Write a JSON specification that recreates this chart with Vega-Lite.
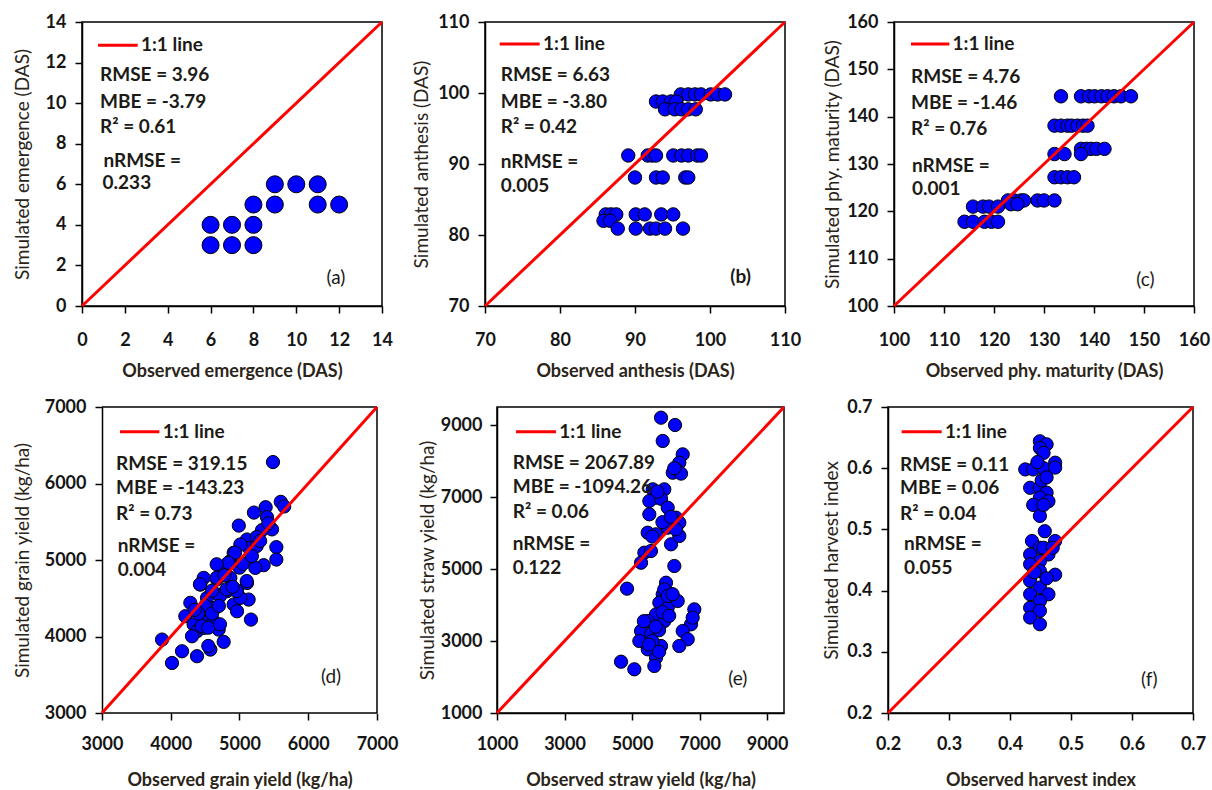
{
"$schema": "https://vega.github.io/schema/vega-lite/v6.json",
"background": "white",
"padding": {"left": 12, "top": 12, "right": 5, "bottom": 3},
"config": {
  "view": {"stroke": "black", "strokeWidth": 1.5},
  "axis": {"grid": false, "domainColor": "black", "domainWidth": 1.5, "tickColor": "black", "tickWidth": 1.5, "tickSize": 7,
    "labelFont": "Lato", "labelFontSize": 18, "labelFontWeight": "bold", "labelColor": "#151515", "labelFlush": false, "labelOverlap": false, "labelBound": false,
    "titleFont": "Lato", "titleFontSize": 18, "titleColor": "#2b2418"},
  "axisX": {"titleFontWeight": "bold"},
  "axisY": {"titleFontWeight": "normal", "titleFontSize": 19},
  "text": {"font": "Lato", "fontSize": 19, "fontWeight": "bold", "color": "#1c1a16", "align": "left", "baseline": "middle"},
  "circle": {"fill": "#0000ff", "stroke": "black", "strokeWidth": 1, "opacity": 1, "fillOpacity": 1}
},
"datasets": {
  "a": [{"obs":6,"sim":4},{"obs":7,"sim":4},{"obs":8,"sim":4},{"obs":6,"sim":3},{"obs":7,"sim":3},{"obs":8,"sim":3},{"obs":8,"sim":5},{"obs":9,"sim":5},{"obs":9,"sim":6},{"obs":10,"sim":6},{"obs":11,"sim":6},{"obs":11,"sim":5},{"obs":12,"sim":5}],
  "b": [{"obs":96.1,"sim":99.8},{"obs":97.1,"sim":99.8},{"obs":98.0,"sim":99.8},{"obs":98.8,"sim":99.8},{"obs":100.1,"sim":99.8},{"obs":101.0,"sim":99.8},{"obs":102.0,"sim":99.8},
    {"obs":92.8,"sim":98.8},{"obs":93.7,"sim":98.8},{"obs":94.8,"sim":98.8},{"obs":95.5,"sim":98.8},
    {"obs":94.0,"sim":97.7},{"obs":95.3,"sim":97.7},{"obs":96.2,"sim":97.7},{"obs":97.1,"sim":97.7},{"obs":98.1,"sim":97.7},
    {"obs":89.1,"sim":91.2},{"obs":91.7,"sim":91.2},{"obs":92.3,"sim":91.2},{"obs":92.8,"sim":91.2},{"obs":95.1,"sim":91.2},{"obs":96.2,"sim":91.2},{"obs":97.1,"sim":91.2},{"obs":98.3,"sim":91.2},{"obs":98.8,"sim":91.2},
    {"obs":90.0,"sim":88.1},{"obs":92.8,"sim":88.1},{"obs":93.7,"sim":88.1},{"obs":96.7,"sim":88.1},{"obs":97.1,"sim":88.1},
    {"obs":86.1,"sim":82.9},{"obs":86.8,"sim":82.9},{"obs":87.5,"sim":82.9},{"obs":90.1,"sim":82.9},{"obs":91.3,"sim":82.9},{"obs":93.5,"sim":82.9},{"obs":95.1,"sim":82.9},
    {"obs":85.8,"sim":82.0},{"obs":86.7,"sim":82.0},
    {"obs":87.7,"sim":80.9},{"obs":90.1,"sim":80.9},{"obs":92.0,"sim":80.9},{"obs":92.8,"sim":80.9},{"obs":94.0,"sim":80.9},{"obs":96.4,"sim":80.9}],
  "c": [{"obs":133.4,"sim":144.3},{"obs":137.4,"sim":144.3},{"obs":139.0,"sim":144.3},{"obs":140.1,"sim":144.3},{"obs":141.5,"sim":144.3},{"obs":142.7,"sim":144.3},{"obs":144.0,"sim":144.3},{"obs":145.4,"sim":144.3},{"obs":147.4,"sim":144.3},
    {"obs":132.1,"sim":138.1},{"obs":133.4,"sim":138.1},{"obs":134.7,"sim":138.1},{"obs":135.5,"sim":138.1},{"obs":136.7,"sim":138.1},{"obs":137.8,"sim":138.1},{"obs":138.7,"sim":138.1},
    {"obs":137.4,"sim":133.2},{"obs":138.5,"sim":133.2},{"obs":139.4,"sim":133.2},{"obs":140.5,"sim":133.2},{"obs":142.1,"sim":133.2},
    {"obs":132.1,"sim":132.1},{"obs":134.1,"sim":132.1},{"obs":137.4,"sim":132.1},
    {"obs":132.1,"sim":127.2},{"obs":133.4,"sim":127.2},{"obs":134.7,"sim":127.2},{"obs":136.0,"sim":127.2},
    {"obs":122.8,"sim":122.3},{"obs":124.0,"sim":122.3},{"obs":125.4,"sim":122.3},{"obs":126.0,"sim":122.3},{"obs":128.7,"sim":122.3},{"obs":130.0,"sim":122.3},{"obs":132.1,"sim":122.3},
    {"obs":123.4,"sim":121.5},{"obs":124.7,"sim":121.5},
    {"obs":115.8,"sim":121.0},{"obs":117.8,"sim":121.0},{"obs":119.0,"sim":121.0},{"obs":120.8,"sim":121.0},
    {"obs":114.1,"sim":117.8},{"obs":115.8,"sim":117.8},{"obs":118.1,"sim":117.8},{"obs":119.5,"sim":117.8},{"obs":120.8,"sim":117.8}],
  "d": [{"obs":5487,"sim":6280},{"obs":5600,"sim":5760},{"obs":5650,"sim":5700},{"obs":5380,"sim":5690},{"obs":5210,"sim":5620},{"obs":5400,"sim":5560},{"obs":5473,"sim":5400},{"obs":5327,"sim":5390},{"obs":4990,"sim":5450},{"obs":5536,"sim":5168},{"obs":5536,"sim":5006},{"obs":5351,"sim":4932},{"obs":5230,"sim":4897},{"obs":5109,"sim":5268},{"obs":5133,"sim":5159},{"obs":5012,"sim":5203},{"obs":4915,"sim":5094},{"obs":4867,"sim":4985},{"obs":4842,"sim":4963},{"obs":5109,"sim":4700},{"obs":5133,"sim":4483},{"obs":5167,"sim":4221},{"obs":4964,"sim":4592},{"obs":4915,"sim":4418},{"obs":4964,"sim":4330},{"obs":4745,"sim":4854},{"obs":4673,"sim":4745},{"obs":4721,"sim":4548},{"obs":4648,"sim":4374},{"obs":4430,"sim":4679},{"obs":4479,"sim":4766},{"obs":4285,"sim":4440},{"obs":4212,"sim":4265},{"obs":4333,"sim":4156},{"obs":4382,"sim":4069},{"obs":4309,"sim":4003},{"obs":4479,"sim":4112},{"obs":4552,"sim":4200},{"obs":4624,"sim":4200},{"obs":4697,"sim":4090},{"obs":4770,"sim":3930},{"obs":4576,"sim":3829},{"obs":4382,"sim":3742},{"obs":4164,"sim":3807},{"obs":4018,"sim":3654},{"obs":3873,"sim":3960},{"obs":4527,"sim":4505},{"obs":4575,"sim":4374},{"obs":4818,"sim":4592},{"obs":4867,"sim":4767},{"obs":5012,"sim":4505},{"obs":5250,"sim":5183},{"obs":5250,"sim":5300},{"obs":4935,"sim":5096},{"obs":4837,"sim":4965},{"obs":5105,"sim":4725},{"obs":4959,"sim":4595},{"obs":4716,"sim":4529},{"obs":4668,"sim":4769},{"obs":4425,"sim":4682},{"obs":4450,"sim":4137},{"obs":4546,"sim":4115},{"obs":4716,"sim":4159},{"obs":4546,"sim":3876},{"obs":4668,"sim":4944},{"obs":4814,"sim":4617},{"obs":5000,"sim":4900},{"obs":4780,"sim":4800},{"obs":4600,"sim":4600},{"obs":4500,"sim":4400},{"obs":4400,"sim":4300},{"obs":4350,"sim":4350},{"obs":4600,"sim":4300},{"obs":4700,"sim":4400},{"obs":4900,"sim":4650},{"obs":5050,"sim":4950},{"obs":5180,"sim":5050},{"obs":5300,"sim":5250},{"obs":5420,"sim":5480}],
  "e": [{"obs":5858,"sim":9203},{"obs":6273,"sim":9000},{"obs":5908,"sim":8556},{"obs":6500,"sim":8185},{"obs":6400,"sim":7953},{"obs":6302,"sim":7769},{"obs":6204,"sim":7675},{"obs":6450,"sim":7650},{"obs":5612,"sim":7213},{"obs":5955,"sim":7213},{"obs":5710,"sim":6981},{"obs":5512,"sim":6889},{"obs":5858,"sim":6950},{"obs":6056,"sim":6703},{"obs":5512,"sim":6519},{"obs":6302,"sim":6425},{"obs":6400,"sim":6286},{"obs":5463,"sim":6008},{"obs":5710,"sim":5964},{"obs":6056,"sim":6147},{"obs":6154,"sim":5686},{"obs":6400,"sim":5917},{"obs":5364,"sim":5453},{"obs":5560,"sim":5500},{"obs":5266,"sim":5175},{"obs":6252,"sim":5083},{"obs":4851,"sim":4453},{"obs":6006,"sim":4619},{"obs":5908,"sim":4297},{"obs":6154,"sim":4297},{"obs":5808,"sim":4064},{"obs":6056,"sim":3925},{"obs":6352,"sim":4111},{"obs":5710,"sim":3740},{"obs":5464,"sim":3555},{"obs":5956,"sim":3555},{"obs":6844,"sim":3880},{"obs":6746,"sim":3463},{"obs":6500,"sim":3278},{"obs":6648,"sim":3047},{"obs":6400,"sim":2861},{"obs":5266,"sim":3278},{"obs":5562,"sim":3186},{"obs":5858,"sim":2861},{"obs":5216,"sim":3000},{"obs":5464,"sim":2769},{"obs":5710,"sim":2536},{"obs":4673,"sim":2425},{"obs":5067,"sim":2214},{"obs":5660,"sim":2306},{"obs":6796,"sim":3650},{"obs":5955,"sim":4435},{"obs":6056,"sim":4250},{"obs":5800,"sim":3300},{"obs":5600,"sim":3000},{"obs":5900,"sim":3800},{"obs":6100,"sim":3700},{"obs":5700,"sim":3400},{"obs":5350,"sim":3550},{"obs":5500,"sim":2900},{"obs":5800,"sim":2700},{"obs":6200,"sim":4300},{"obs":5900,"sim":6300},{"obs":6300,"sim":6100},{"obs":5600,"sim":5900},{"obs":6150,"sim":6450},{"obs":6250,"sim":7800},{"obs":5750,"sim":7150}],
  "f": [{"obs":0.449,"sim":0.644},{"obs":0.460,"sim":0.639},{"obs":0.449,"sim":0.633},{"obs":0.455,"sim":0.625},{"obs":0.474,"sim":0.609},{"obs":0.425,"sim":0.598},{"obs":0.438,"sim":0.598},{"obs":0.455,"sim":0.600},{"obs":0.474,"sim":0.601},{"obs":0.433,"sim":0.568},{"obs":0.449,"sim":0.568},{"obs":0.460,"sim":0.560},{"obs":0.449,"sim":0.552},{"obs":0.463,"sim":0.546},{"obs":0.452,"sim":0.580},{"obs":0.449,"sim":0.522},{"obs":0.457,"sim":0.497},{"obs":0.436,"sim":0.481},{"obs":0.474,"sim":0.481},{"obs":0.449,"sim":0.470},{"obs":0.433,"sim":0.459},{"obs":0.463,"sim":0.459},{"obs":0.449,"sim":0.448},{"obs":0.433,"sim":0.443},{"obs":0.474,"sim":0.426},{"obs":0.449,"sim":0.432},{"obs":0.433,"sim":0.416},{"obs":0.449,"sim":0.405},{"obs":0.463,"sim":0.394},{"obs":0.433,"sim":0.394},{"obs":0.449,"sim":0.383},{"obs":0.433,"sim":0.372},{"obs":0.449,"sim":0.367},{"obs":0.433,"sim":0.356},{"obs":0.449,"sim":0.345},{"obs":0.460,"sim":0.420},{"obs":0.440,"sim":0.430},{"obs":0.455,"sim":0.470},{"obs":0.470,"sim":0.470},{"obs":0.445,"sim":0.610},{"obs":0.460,"sim":0.585},{"obs":0.438,"sim":0.540},{"obs":0.455,"sim":0.540}]
},
"spacing": 16,
"vconcat": [
 {"spacing": 17, "hconcat": [
  {"width": 300, "height": 284, "layer": [
    {"data": {"name": "a"}, "mark": {"type": "circle", "size": 290},
     "encoding": {"x": {"field": "obs", "type": "quantitative", "scale": {"domain": [0, 14], "nice": false, "zero": false}, "axis": {"values": [0,2,4,6,8,10,12,14], "title": "Observed emergence (DAS)", "labelPadding": 18, "titlePadding": 13}},
                  "y": {"field": "sim", "type": "quantitative", "scale": {"domain": [0, 14], "nice": false, "zero": false}, "axis": {"values": [0,2,4,6,8,10,12,14], "title": "Simulated emergence (DAS)", "labelPadding": 9, "titlePadding": 13}}}},
    {"data": {"values": [{}]}, "mark": {"type": "rule", "color": "#ff0000", "strokeWidth": 3}, "encoding": {"x": {"datum": 0, "type": "quantitative"}, "y": {"datum": 0, "type": "quantitative"}, "x2": {"datum": 14}, "y2": {"datum": 14}}},
    {"data": {"values": [{}]}, "mark": {"type": "rule", "color": "#ff0000", "strokeWidth": 3}, "encoding": {"x": {"datum": 0.75, "type": "quantitative"}, "x2": {"datum": 2.6}, "y": {"datum": 12.86, "type": "quantitative"}}},
    {"data": {"values": [{}]}, "mark": {"type": "text", "text": "1:1 line"}, "encoding": {"x": {"datum": 2.75, "type": "quantitative"}, "y": {"datum": 12.86, "type": "quantitative"}}},
    {"data": {"values": [{}]}, "mark": {"type": "text", "text": "RMSE = 3.96"}, "encoding": {"x": {"datum": 0.84, "type": "quantitative"}, "y": {"datum": 11.38, "type": "quantitative"}}},
    {"data": {"values": [{}]}, "mark": {"type": "text", "text": "MBE = -3.79"}, "encoding": {"x": {"datum": 0.84, "type": "quantitative"}, "y": {"datum": 10.07, "type": "quantitative"}}},
    {"data": {"values": [{}]}, "mark": {"type": "text", "text": "R² =  0.61"}, "encoding": {"x": {"datum": 0.84, "type": "quantitative"}, "y": {"datum": 8.81, "type": "quantitative"}}},
    {"data": {"values": [{}]}, "mark": {"type": "text", "text": "nRMSE ="}, "encoding": {"x": {"datum": 1.0, "type": "quantitative"}, "y": {"datum": 7.16, "type": "quantitative"}}},
    {"data": {"values": [{}]}, "mark": {"type": "text", "text": "0.233"}, "encoding": {"x": {"datum": 0.96, "type": "quantitative"}, "y": {"datum": 6.05, "type": "quantitative"}}},
    {"data": {"values": [{}]}, "mark": {"type": "text", "text": "(a)", "align": "center", "fontWeight": "normal"}, "encoding": {"x": {"datum": 11.85, "type": "quantitative"}, "y": {"datum": 1.36, "type": "quantitative"}}}
  ]},
  {"spacing": 20, "hconcat": [
   {"width": 300, "height": 284, "layer": [
    {"data": {"name": "b"}, "mark": {"type": "circle", "size": 180},
     "encoding": {"x": {"field": "obs", "type": "quantitative", "scale": {"domain": [70, 110], "nice": false, "zero": false}, "axis": {"values": [70,80,90,100,110], "title": "Observed anthesis  (DAS)", "labelPadding": 18, "titlePadding": 13}},
                  "y": {"field": "sim", "type": "quantitative", "scale": {"domain": [70, 110], "nice": false, "zero": false}, "axis": {"values": [70,80,90,100,110], "title": "Simulated anthesis (DAS)", "labelPadding": 9, "titlePadding": 6}}}},
    {"data": {"values": [{}]}, "mark": {"type": "rule", "color": "#ff0000", "strokeWidth": 3}, "encoding": {"x": {"datum": 70, "type": "quantitative"}, "y": {"datum": 70, "type": "quantitative"}, "x2": {"datum": 110}, "y2": {"datum": 110}}},
    {"data": {"values": [{}]}, "mark": {"type": "rule", "color": "#ff0000", "strokeWidth": 3}, "encoding": {"x": {"datum": 71.96, "type": "quantitative"}, "x2": {"datum": 77.29}, "y": {"datum": 106.9, "type": "quantitative"}}},
    {"data": {"values": [{}]}, "mark": {"type": "text", "text": "1:1 line"}, "encoding": {"x": {"datum": 77.73, "type": "quantitative"}, "y": {"datum": 106.9, "type": "quantitative"}}},
    {"data": {"values": [{}]}, "mark": {"type": "text", "text": "RMSE = 6.63"}, "encoding": {"x": {"datum": 72.09, "type": "quantitative"}, "y": {"datum": 102.5, "type": "quantitative"}}},
    {"data": {"values": [{}]}, "mark": {"type": "text", "text": "MBE = -3.80"}, "encoding": {"x": {"datum": 72.09, "type": "quantitative"}, "y": {"datum": 98.77, "type": "quantitative"}}},
    {"data": {"values": [{}]}, "mark": {"type": "text", "text": "R² =  0.42"}, "encoding": {"x": {"datum": 72.09, "type": "quantitative"}, "y": {"datum": 95.25, "type": "quantitative"}}},
    {"data": {"values": [{}]}, "mark": {"type": "text", "text": "nRMSE ="}, "encoding": {"x": {"datum": 72.09, "type": "quantitative"}, "y": {"datum": 90.23, "type": "quantitative"}}},
    {"data": {"values": [{}]}, "mark": {"type": "text", "text": "0.005"}, "encoding": {"x": {"datum": 72.09, "type": "quantitative"}, "y": {"datum": 86.94, "type": "quantitative"}}},
    {"data": {"values": [{}]}, "mark": {"type": "text", "text": "(b)", "align": "center"}, "encoding": {"x": {"datum": 104.09, "type": "quantitative"}, "y": {"datum": 74.04, "type": "quantitative"}}}
   ]},
   {"width": 300, "height": 284, "layer": [
    {"data": {"name": "c"}, "mark": {"type": "circle", "size": 180},
     "encoding": {"x": {"field": "obs", "type": "quantitative", "scale": {"domain": [100, 160], "nice": false, "zero": false}, "axis": {"values": [100,110,120,130,140,150,160], "title": "Observed phy. maturity (DAS)", "labelPadding": 18, "titlePadding": 13}},
                  "y": {"field": "sim", "type": "quantitative", "scale": {"domain": [100, 160], "nice": false, "zero": false}, "axis": {"values": [100,110,120,130,140,150,160], "title": "Simulated phy. maturity (DAS)", "labelPadding": 9, "titlePadding": 4}}}},
    {"data": {"values": [{}]}, "mark": {"type": "rule", "color": "#ff0000", "strokeWidth": 3}, "encoding": {"x": {"datum": 100, "type": "quantitative"}, "y": {"datum": 100, "type": "quantitative"}, "x2": {"datum": 160}, "y2": {"datum": 160}}},
    {"data": {"values": [{}]}, "mark": {"type": "rule", "color": "#ff0000", "strokeWidth": 3}, "encoding": {"x": {"datum": 103.4, "type": "quantitative"}, "x2": {"datum": 111.07}, "y": {"datum": 155.35, "type": "quantitative"}}},
    {"data": {"values": [{}]}, "mark": {"type": "text", "text": "1:1 line"}, "encoding": {"x": {"datum": 111.7, "type": "quantitative"}, "y": {"datum": 155.35, "type": "quantitative"}}},
    {"data": {"values": [{}]}, "mark": {"type": "text", "text": "RMSE = 4.76"}, "encoding": {"x": {"datum": 103.4, "type": "quantitative"}, "y": {"datum": 148.45, "type": "quantitative"}}},
    {"data": {"values": [{}]}, "mark": {"type": "text", "text": "MBE = -1.46"}, "encoding": {"x": {"datum": 103.4, "type": "quantitative"}, "y": {"datum": 142.8, "type": "quantitative"}}},
    {"data": {"values": [{}]}, "mark": {"type": "text", "text": "R² =  0.76"}, "encoding": {"x": {"datum": 103.4, "type": "quantitative"}, "y": {"datum": 137.4, "type": "quantitative"}}},
    {"data": {"values": [{}]}, "mark": {"type": "text", "text": "nRMSE ="}, "encoding": {"x": {"datum": 103.6, "type": "quantitative"}, "y": {"datum": 129.6, "type": "quantitative"}}},
    {"data": {"values": [{}]}, "mark": {"type": "text", "text": "0.001"}, "encoding": {"x": {"datum": 103.6, "type": "quantitative"}, "y": {"datum": 124.7, "type": "quantitative"}}},
    {"data": {"values": [{}]}, "mark": {"type": "text", "text": "(c)", "align": "center", "fontWeight": "normal"}, "encoding": {"x": {"datum": 150.27, "type": "quantitative"}, "y": {"datum": 105.5, "type": "quantitative"}}}
   ]}
  ]}
 ]},
 {"spacing": 19, "hconcat": [
  {"width": 295, "height": 306, "view": {"stroke": null}, "layer": [
    {"data": {"name": "d"}, "mark": {"type": "circle", "size": 175},
     "encoding": {"x": {"field": "obs", "type": "quantitative", "scale": {"domain": [2709.1, 7000], "nice": false, "zero": false}, "axis": {"values": [3000,4000,5000,6000,7000], "format": "d", "domain": false, "title": "Observed grain yield (kg/ha)", "titleX": 157.5, "labelPadding": 15, "titlePadding": 18}},
                  "y": {"field": "sim", "type": "quantitative", "scale": {"domain": [3000, 7000], "nice": false, "zero": false}, "axis": {"values": [3000,4000,5000,6000,7000], "format": "d", "offset": -20, "title": "Simulated grain yield (kg/ha)", "labelPadding": 9, "titlePadding": 12}}}},
    {"data": {"values": [{}]}, "mark": {"type": "rule", "color": "black", "strokeWidth": 1.5}, "encoding": {"x": {"datum": 3000, "type": "quantitative"}, "x2": {"datum": 7000}, "y": {"datum": 7000, "type": "quantitative"}}},
    {"data": {"values": [{}]}, "mark": {"type": "rule", "color": "black", "strokeWidth": 1.5}, "encoding": {"x": {"datum": 3000, "type": "quantitative"}, "x2": {"datum": 7000}, "y": {"datum": 3000, "type": "quantitative"}}},
    {"data": {"values": [{}]}, "mark": {"type": "rule", "color": "black", "strokeWidth": 1.5}, "encoding": {"x": {"datum": 7000, "type": "quantitative"}, "y": {"datum": 3000, "type": "quantitative"}, "y2": {"datum": 7000}}},
    {"data": {"values": [{}]}, "mark": {"type": "rule", "color": "#ff0000", "strokeWidth": 3}, "encoding": {"x": {"datum": 3000, "type": "quantitative"}, "y": {"datum": 3000, "type": "quantitative"}, "x2": {"datum": 7000}, "y2": {"datum": 7000}}},
    {"data": {"values": [{}]}, "mark": {"type": "rule", "color": "#ff0000", "strokeWidth": 3}, "encoding": {"x": {"datum": 3262, "type": "quantitative"}, "x2": {"datum": 3834}, "y": {"datum": 6677, "type": "quantitative"}}},
    {"data": {"values": [{}]}, "mark": {"type": "text", "text": "1:1 line"}, "encoding": {"x": {"datum": 3883, "type": "quantitative"}, "y": {"datum": 6677, "type": "quantitative"}}},
    {"data": {"values": [{}]}, "mark": {"type": "text", "text": "RMSE =  319.15"}, "encoding": {"x": {"datum": 3204, "type": "quantitative"}, "y": {"datum": 6251, "type": "quantitative"}}},
    {"data": {"values": [{}]}, "mark": {"type": "text", "text": "MBE = -143.23"}, "encoding": {"x": {"datum": 3204, "type": "quantitative"}, "y": {"datum": 5937, "type": "quantitative"}}},
    {"data": {"values": [{}]}, "mark": {"type": "text", "text": "R² =  0.73"}, "encoding": {"x": {"datum": 3204, "type": "quantitative"}, "y": {"datum": 5605, "type": "quantitative"}}},
    {"data": {"values": [{}]}, "mark": {"type": "text", "text": "nRMSE ="}, "encoding": {"x": {"datum": 3228, "type": "quantitative"}, "y": {"datum": 5183, "type": "quantitative"}}},
    {"data": {"values": [{}]}, "mark": {"type": "text", "text": "0.004"}, "encoding": {"x": {"datum": 3228, "type": "quantitative"}, "y": {"datum": 4869, "type": "quantitative"}}},
    {"data": {"values": [{}]}, "mark": {"type": "text", "text": "(d)", "align": "center", "fontWeight": "normal"}, "encoding": {"x": {"datum": 6331, "type": "quantitative"}, "y": {"datum": 3475, "type": "quantitative"}}}
  ]},
  {"spacing": 33, "hconcat": [
   {"width": 287, "height": 306, "layer": [
    {"data": {"name": "e"}, "mark": {"type": "circle", "size": 175},
     "encoding": {"x": {"field": "obs", "type": "quantitative", "scale": {"domain": [1000, 9500], "nice": false, "zero": false}, "axis": {"values": [1000,3000,5000,7000,9000], "format": "d", "title": "Observed straw  yield (kg/ha)", "labelPadding": 15, "titlePadding": 18}},
                  "y": {"field": "sim", "type": "quantitative", "scale": {"domain": [1000, 9500], "nice": false, "zero": false}, "axis": {"values": [1000,3000,5000,7000,9000], "format": "d", "title": "Simulated straw yield  (kg/ha)", "labelPadding": 8, "titlePadding": 3}}}},
    {"data": {"values": [{}]}, "mark": {"type": "rule", "color": "#ff0000", "strokeWidth": 3}, "encoding": {"x": {"datum": 1000, "type": "quantitative"}, "y": {"datum": 1000, "type": "quantitative"}, "x2": {"datum": 9500}, "y2": {"datum": 9500}}},
    {"data": {"values": [{}]}, "mark": {"type": "rule", "color": "#ff0000", "strokeWidth": 3}, "encoding": {"x": {"datum": 1563, "type": "quantitative"}, "x2": {"datum": 2748}, "y": {"datum": 8814, "type": "quantitative"}}},
    {"data": {"values": [{}]}, "mark": {"type": "text", "text": "1:1 line"}, "encoding": {"x": {"datum": 2846, "type": "quantitative"}, "y": {"datum": 8814, "type": "quantitative"}}},
    {"data": {"values": [{}]}, "mark": {"type": "text", "text": "RMSE =  2067.89"}, "encoding": {"x": {"datum": 1465, "type": "quantitative"}, "y": {"datum": 7953, "type": "quantitative"}}},
    {"data": {"values": [{}]}, "mark": {"type": "text", "text": "MBE = -1094.26"}, "encoding": {"x": {"datum": 1465, "type": "quantitative"}, "y": {"datum": 7278, "type": "quantitative"}}},
    {"data": {"values": [{}]}, "mark": {"type": "text", "text": "R² =  0.06"}, "encoding": {"x": {"datum": 1465, "type": "quantitative"}, "y": {"datum": 6592, "type": "quantitative"}}},
    {"data": {"values": [{}]}, "mark": {"type": "text", "text": "nRMSE ="}, "encoding": {"x": {"datum": 1465, "type": "quantitative"}, "y": {"datum": 5685, "type": "quantitative"}}},
    {"data": {"values": [{}]}, "mark": {"type": "text", "text": "0.122"}, "encoding": {"x": {"datum": 1465, "type": "quantitative"}, "y": {"datum": 5036, "type": "quantitative"}}},
    {"data": {"values": [{}]}, "mark": {"type": "text", "text": "(e)", "align": "center", "fontWeight": "normal"}, "encoding": {"x": {"datum": 8129, "type": "quantitative"}, "y": {"datum": 1936, "type": "quantitative"}}}
   ]},
   {"width": 305, "height": 306, "layer": [
    {"data": {"name": "f"}, "mark": {"type": "circle", "size": 175},
     "encoding": {"x": {"field": "obs", "type": "quantitative", "scale": {"domain": [0.2, 0.7], "nice": false, "zero": false}, "axis": {"values": [0.2,0.3,0.4,0.5,0.6,0.7], "format": ".1f", "title": "Observed harvest  index", "labelPadding": 15, "titlePadding": 18}},
                  "y": {"field": "sim", "type": "quantitative", "scale": {"domain": [0.2, 0.7], "nice": false, "zero": false}, "axis": {"values": [0.2,0.3,0.4,0.5,0.6,0.7], "format": ".1f", "title": "Simulated harvest index", "labelPadding": 9, "titlePadding": 5}}}},
    {"data": {"values": [{}]}, "mark": {"type": "rule", "color": "#ff0000", "strokeWidth": 3}, "encoding": {"x": {"datum": 0.2, "type": "quantitative"}, "y": {"datum": 0.2, "type": "quantitative"}, "x2": {"datum": 0.7}, "y2": {"datum": 0.7}}},
    {"data": {"values": [{}]}, "mark": {"type": "rule", "color": "#ff0000", "strokeWidth": 3}, "encoding": {"x": {"datum": 0.2224, "type": "quantitative"}, "x2": {"datum": 0.288}, "y": {"datum": 0.6597, "type": "quantitative"}}},
    {"data": {"values": [{}]}, "mark": {"type": "text", "text": "1:1 line"}, "encoding": {"x": {"datum": 0.2934, "type": "quantitative"}, "y": {"datum": 0.6597, "type": "quantitative"}}},
    {"data": {"values": [{}]}, "mark": {"type": "text", "text": "RMSE =  0.11"}, "encoding": {"x": {"datum": 0.2197, "type": "quantitative"}, "y": {"datum": 0.6052, "type": "quantitative"}}},
    {"data": {"values": [{}]}, "mark": {"type": "text", "text": "MBE = 0.06"}, "encoding": {"x": {"datum": 0.2197, "type": "quantitative"}, "y": {"datum": 0.5672, "type": "quantitative"}}},
    {"data": {"values": [{}]}, "mark": {"type": "text", "text": "R² = 0.04"}, "encoding": {"x": {"datum": 0.2197, "type": "quantitative"}, "y": {"datum": 0.5257, "type": "quantitative"}}},
    {"data": {"values": [{}]}, "mark": {"type": "text", "text": "nRMSE ="}, "encoding": {"x": {"datum": 0.2262, "type": "quantitative"}, "y": {"datum": 0.4757, "type": "quantitative"}}},
    {"data": {"values": [{}]}, "mark": {"type": "text", "text": "0.055"}, "encoding": {"x": {"datum": 0.2262, "type": "quantitative"}, "y": {"datum": 0.4374, "type": "quantitative"}}},
    {"data": {"values": [{}]}, "mark": {"type": "text", "text": "(f)", "align": "center", "fontWeight": "normal"}, "encoding": {"x": {"datum": 0.6284, "type": "quantitative"}, "y": {"datum": 0.2534, "type": "quantitative"}}}
   ]}
  ]}
 ]}
]
}
